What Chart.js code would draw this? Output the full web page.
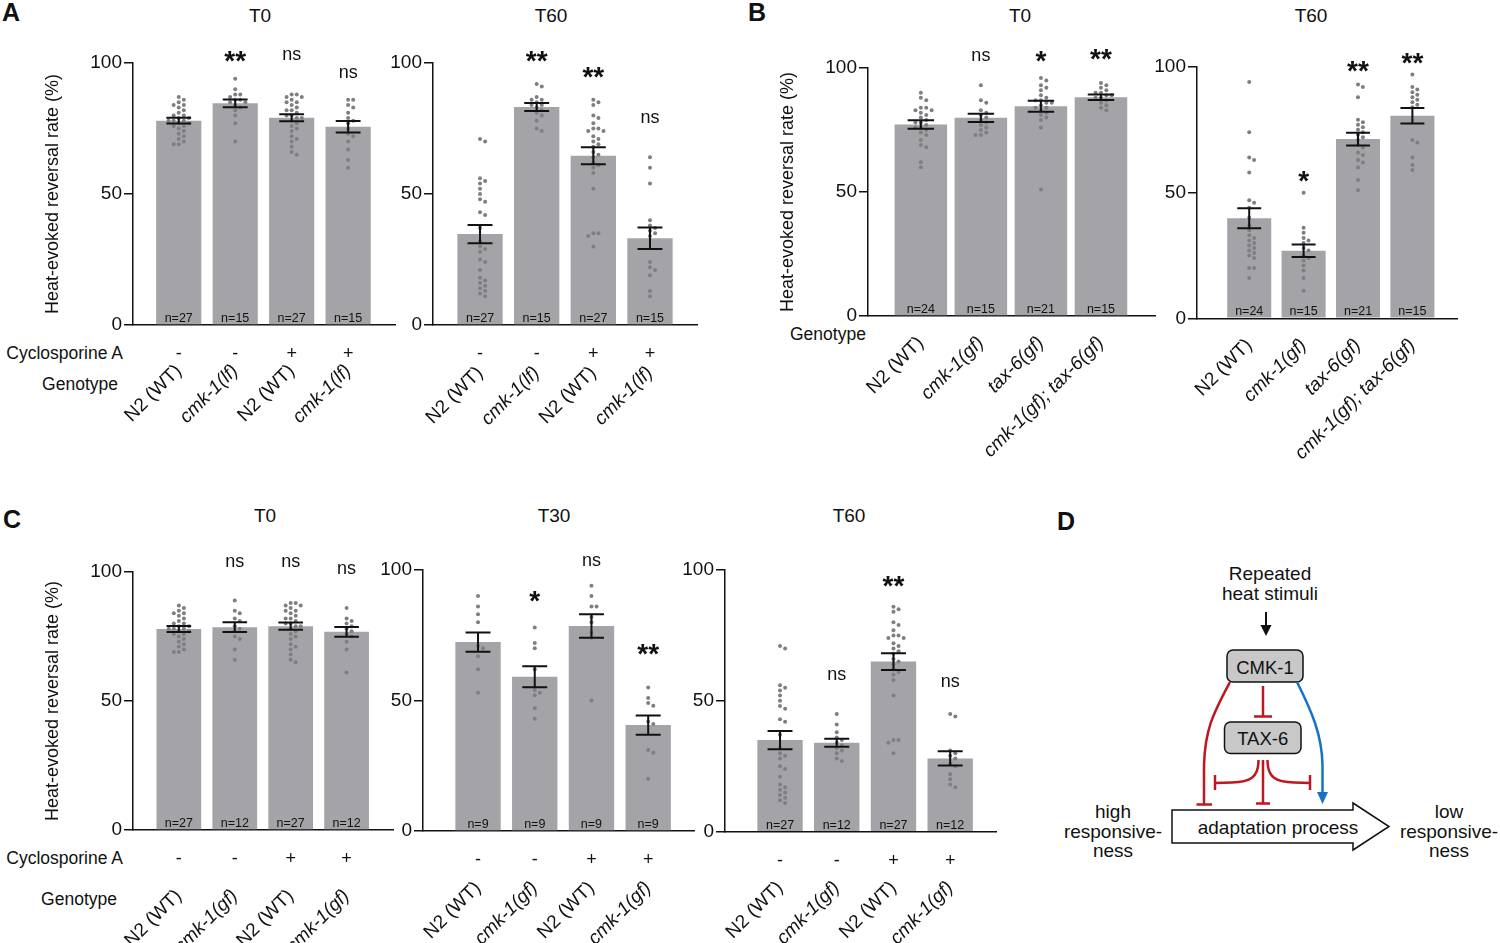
<!DOCTYPE html>
<html lang="en">
<head>
<meta charset="UTF-8">
<title>CMK-1 / TAX-6 heat-evoked reversal</title>
<script src="https://cdn.jsdelivr.net/npm/chart.js"></script>
<style>
    body { margin: 0; background: #fff; font-family: "Liberation Sans", Arial, sans-serif; color: #111; }
    #fig { position: relative; width: 1500px; height: 943px; overflow: hidden; }
    canvas { position: absolute; }
    .t { position: absolute; white-space: nowrap; line-height: 1; }
    .letter { font-weight: bold; font-size: 25px; transform: translate(-50%, -50%); }
    .title { font-size: 19px; transform: translate(-50%, -50%); }
    .row { font-size: 17.5px; transform: translate(-100%, -50%); }
    .rowl { font-size: 17.5px; transform: translate(0, -50%); }
    svg { position: absolute; left: 0; top: 0; }
</style>
</head>
<body>
<div id="fig">
    <div class="t letter" style="left:11px;top:12px">A</div>
    <div class="t letter" style="left:757px;top:12px">B</div>
    <div class="t letter" style="left:12px;top:519px">C</div>
    <div class="t letter" style="left:1066px;top:521px">D</div>

    <div class="t title" style="left:260px;top:15px">T0</div>
    <div class="t title" style="left:551px;top:15px">T60</div>
    <div class="t title" style="left:1020px;top:15px">T0</div>
    <div class="t title" style="left:1311px;top:15px">T60</div>
    <div class="t title" style="left:265px;top:515px">T0</div>
    <div class="t title" style="left:554px;top:515px">T30</div>
    <div class="t title" style="left:849px;top:515px">T60</div>

    <div class="t row" style="left:123px;top:354px">Cyclosporine A</div>
    <div class="t row" style="left:118px;top:385px">Genotype</div>
    <div class="t rowl" style="left:790px;top:335px">Genotype</div>
    <div class="t row" style="left:123px;top:859px">Cyclosporine A</div>
    <div class="t row" style="left:117px;top:900px">Genotype</div>

    <svg width="1500" height="943" viewBox="0 0 1500 943" font-family="Liberation Sans, Arial, sans-serif">
        <g font-size="19" text-anchor="middle" fill="#111">
            <text x="1270" y="573" dominant-baseline="central">Repeated</text>
            <text x="1270" y="593" dominant-baseline="central">heat stimuli</text>
        </g>
        <line x1="1266" y1="612" x2="1266" y2="627" stroke="#111" stroke-width="2"/>
        <polygon points="1260.5,625 1271.5,625 1266,636" fill="#111"/>

        <rect x="1227" y="650" width="76" height="32" rx="6" fill="#c8c8c8" stroke="#111" stroke-width="1.5"/>
        <text x="1265" y="667" font-size="18.5" text-anchor="middle" dominant-baseline="central" fill="#111">CMK-1</text>
        <rect x="1224.5" y="722" width="76.5" height="31.5" rx="6" fill="#c8c8c8" stroke="#111" stroke-width="1.5"/>
        <text x="1262.7" y="738.5" font-size="18.5" text-anchor="middle" dominant-baseline="central" fill="#111">TAX-6</text>

        <g stroke="#c0161d" stroke-width="2.5" fill="none">
            <path d="M1263,686 V716.5"/>
            <path d="M1254,716.5 H1272"/>
            <path d="M1230,682 C1214,712 1204,730 1204,770 L1204,804"/>
            <path d="M1196.5,804.5 H1212"/>
            <path d="M1258.5,760 C1258.5,778 1250,782 1232,782.5 L1215,783"/>
            <path d="M1215,775 V790"/>
            <path d="M1267.5,760 C1267.5,778 1276,782 1294,782.5 L1310,783"/>
            <path d="M1310,775 V790"/>
            <path d="M1263,760 V803.5"/>
            <path d="M1256,803.5 H1270"/>
        </g>
        <path d="M1297,682 C1312,712 1322,735 1322.5,765 L1322.5,794" stroke="#1872c4" stroke-width="2.5" fill="none"/>
        <polygon points="1317,792 1328,792 1322.5,804" fill="#1872c4"/>

        <polygon points="1172,810 1353,810 1353,803 1389,826.5 1353,850 1353,843 1172,843" fill="#fff" stroke="#111" stroke-width="1.5"/>
        <text x="1278" y="827" font-size="19" text-anchor="middle" dominant-baseline="central" fill="#111">adaptation process</text>
        <g font-size="19" text-anchor="middle" fill="#111">
            <text x="1113" y="811" dominant-baseline="central">high</text>
            <text x="1113" y="831" dominant-baseline="central">responsive-</text>
            <text x="1113" y="850" dominant-baseline="central">ness</text>
            <text x="1449" y="811" dominant-baseline="central">low</text>
            <text x="1449" y="831" dominant-baseline="central">responsive-</text>
            <text x="1449" y="850" dominant-baseline="central">ness</text>
        </g>
    </svg>
</div>

<script>
    const FONT = '"Liberation Sans", Arial, sans-serif';
    const INK = '#111';
    const BAR = '#a4a4a8';
    const DOT = '#7e7e83';

    // ---- category labels ----
    const genoLF = ['N2 (WT)', 'cmk-1(lf)', 'N2 (WT)', 'cmk-1(lf)'];
    const genoGF = ['N2 (WT)', 'cmk-1(gf)', 'N2 (WT)', 'cmk-1(gf)'];
    const genoB = ['N2 (WT)', 'cmk-1(gf)', 'tax-6(gf)', 'cmk-1(gf); tax-6(gf)'];
    const cyclo = ['-', '-', '+', '+'];

    // ---- individual animals, shared N2 control groups ----
    const wtT0 = [87, 86, 85, 84, 84, 83, 82, 81, 80, 80, 79, 79, 78, 78, 78, 77, 77, 76, 76, 75, 74, 73, 72, 71, 70, 69, 69];
    const wtT0csa = [88, 88, 87, 87, 86, 85, 85, 84, 83, 82, 82, 81, 80, 80, 79, 79, 78, 77, 76, 75, 74, 72, 71, 70, 68, 66, 65];
    const wtT60 = [71, 70, 56, 55, 54, 52, 50, 48, 47, 43, 42, 37, 32, 30, 29, 28, 25, 24, 21, 18, 17, 16, 15, 14, 13, 12, 11];
    const wtT60csa = [86, 85, 84, 80, 79, 77, 75, 75, 74, 74, 72, 71, 70, 69, 68, 66, 65, 64, 62, 61, 60, 58, 52, 35, 35, 34, 30];

    // ---- A, T0 ----
    const a0Mean = [78.0, 84.6, 79.1, 75.7];
    const a0Sem = [1.1, 1.5, 1.3, 2.2];
    const a0N = [27, 15, 27, 15];
    const a0Sig = ['', '**', 'ns', 'ns'];
    const a0Dots = [wtT0,
        [94, 90, 88, 88, 87, 86, 86, 85, 85, 84, 83, 82, 80, 77, 70],
        wtT0csa,
        [86, 86, 84, 83, 81, 79, 78, 77, 75, 73, 72, 70, 67, 63, 60]];

    // ---- A, T60 ----
    const a60Mean = [34.7, 83.2, 64.6, 33.1];
    const a60Sem = [3.5, 1.5, 3.2, 4.1];
    const a60N = [27, 15, 27, 15];
    const a60Sig = ['', '**', '**', 'ns'];
    const a60Dots = [wtT60,
        [92, 91, 87, 86, 86, 85, 84, 84, 83, 82, 81, 80, 78, 75, 74],
        wtT60csa,
        [64, 60, 54, 40, 38, 37, 36, 35, 34, 24, 22, 21, 19, 13, 11]];

    // ---- B, T0 ----
    const b0Mean = [77.2, 79.9, 84.6, 88.2];
    const b0Sem = [1.7, 1.7, 2.2, 1.1];
    const b0N = [24, 15, 21, 15];
    const b0Sig = ['', 'ns', '*', '**'];
    const b0Dots = [
        [90, 88, 87, 84, 84, 83, 83, 82, 81, 80, 79, 78, 78, 77, 76, 76, 75, 74, 73, 71, 69, 68, 62, 60],
        [93, 87, 86, 83, 82, 81, 80, 79, 78, 77, 76, 75, 74, 73, 73],
        [96, 95, 93, 92, 91, 89, 88, 87, 87, 86, 86, 85, 84, 84, 83, 82, 81, 80, 79, 76, 51],
        [94, 93, 92, 91, 90, 90, 89, 89, 88, 88, 87, 86, 85, 84, 83]];

    // ---- B, T60 ----
    const b60Mean = [39.8, 26.9, 71.3, 80.6];
    const b60Sem = [4.0, 2.5, 2.5, 3.1];
    const b60N = [24, 15, 21, 15];
    const b60Sig = ['', '*', '**', '**'];
    const b60Dots = [
        [94, 74, 64, 63, 58, 47, 46, 44, 40, 37, 35, 33, 32, 31, 30, 29, 28, 27, 26, 25, 24, 20, 20, 16],
        [50, 36, 34, 32, 31, 30, 28, 27, 25, 24, 23, 21, 19, 16, 11],
        [93, 92, 88, 79, 78, 77, 76, 75, 74, 73, 72, 71, 69, 68, 66, 65, 63, 62, 60, 55, 51],
        [97, 92, 91, 90, 89, 88, 87, 86, 85, 84, 71, 70, 64, 61, 59]];

    // ---- C, T0 ----
    const c0Mean = [77.9, 78.6, 79.0, 76.8];
    const c0Sem = [1.2, 1.9, 1.4, 1.9];
    const c0N = [27, 12, 27, 12];
    const c0Sig = ['', 'ns', 'ns', 'ns'];
    const c0Dots = [wtT0,
        [89, 85, 84, 82, 81, 79, 78, 77, 75, 74, 70, 66],
        wtT0csa,
        [86, 82, 81, 80, 79, 78, 77, 76, 75, 73, 70, 61]];

    // ---- C, T30 ----
    const c30Mean = [72.4, 59.1, 78.5, 40.6];
    const c30Sem = [3.7, 4.0, 4.5, 3.7];
    const c30N = [9, 9, 9, 9];
    const c30Sig = ['', '*', 'ns', '**'];
    const c30Dots = [
        [90, 86, 83, 80, 71, 70, 67, 62, 53],
        [78, 72, 70, 62, 54, 53, 52, 47, 43],
        [94, 90, 86, 86, 82, 80, 76, 74, 50],
        [55, 51, 49, 48, 42, 41, 31, 30, 20]];

    // ---- C, T60 ----
    const c60Mean = [35.0, 34.0, 65.0, 28.0];
    const c60Sem = [3.5, 1.5, 3.2, 2.7];
    const c60N = [27, 12, 27, 12];
    const c60Sig = ['', 'ns', '**', 'ns'];
    const c60Dots = [wtT60,
        [45, 41, 38, 36, 35, 34, 33, 32, 31, 30, 28, 27],
        wtT60csa,
        [45, 44, 31, 30, 29, 28, 26, 25, 22, 20, 18, 17]];

    // panel geometry (page pixels) and where the significance marks sit (axis units)
    const panels = [
        { labels: genoLF, signs: cyclo, mean: a0Mean, sem: a0Sem, n: a0N, sig: a0Sig, dots: a0Dots,
          sigAt: [0, 103, 103, 96], axisX: 133, axisEnd: 395, top100: 63, zero: 325,
          xMin: 0.19, xMax: 4.83, barPct: 0.8, yTitle: true, labelPad: 27, bottom: 485 },
        { labels: genoLF, signs: cyclo, mean: a60Mean, sem: a60Sem, n: a60N, sig: a60Sig, dots: a60Dots,
          sigAt: [0, 103, 97, 79], axisX: 433, axisEnd: 697, top100: 63, zero: 325,
          xMin: 0.17, xMax: 4.83, barPct: 0.8, yTitle: false, labelPad: 29, bottom: 485 },
        { labels: genoB, signs: null, mean: b0Mean, sem: b0Sem, n: b0N, sig: b0Sig, dots: b0Dots,
          sigAt: [0, 105, 105, 106], axisX: 868, axisEnd: 1155, top100: 67.7, zero: 316,
          xMin: 0.12, xMax: 4.9, barPct: 0.875, yTitle: true, labelPad: 8, bottom: 485 },
        { labels: genoB, signs: null, mean: b60Mean, sem: b60Sem, n: b60N, sig: b60Sig, dots: b60Dots,
          sigAt: [0, 57, 100.5, 104], axisX: 1197, axisEnd: 1457, top100: 67.3, zero: 318.3,
          xMin: 0.04, xMax: 4.82, barPct: 0.81, yTitle: false, labelPad: 8, bottom: 485 },
        { labels: genoGF, signs: cyclo, mean: c0Mean, sem: c0Sem, n: c0N, sig: c0Sig, dots: c0Dots,
          sigAt: [0, 104, 104, 101], axisX: 133, axisEnd: 393, top100: 571.7, zero: 830,
          xMin: 0.18, xMax: 4.83, barPct: 0.8, yTitle: true, labelPad: 47, bottom: 943 },
        { labels: genoGF, signs: cyclo, mean: c30Mean, sem: c30Sem, n: c30N, sig: c30Sig, dots: c30Dots,
          sigAt: [0, 90.5, 103.5, 70], axisX: 423.3, axisEnd: 695, top100: 570, zero: 831,
          xMin: 0.03, xMax: 4.82, barPct: 0.8, yTitle: false, labelPad: 38, bottom: 943 },
        { labels: genoGF, signs: cyclo, mean: c60Mean, sem: c60Sem, n: c60N, sig: c60Sig, dots: c60Dots,
          sigAt: [0, 60, 96, 57], axisX: 725, axisEnd: 996.7, top100: 570, zero: 831.7,
          xMin: 0.03, xMax: 4.82, barPct: 0.8, yTitle: false, labelPad: 37, bottom: 943 }
    ];

    // simple beeswarm: spread equal-ish values sideways
    function swarm(vals, step = 0.09, gap = 1.6) {
        const placed = [];
        return vals.slice().sort((a, b) => b - a).map(v => {
            for (let k = 0; ; k++) {
                const o = (k % 2 ? 1 : -1) * Math.ceil(k / 2) * step + 0;
                const ok = placed.every(p => Math.abs(p.v - v) >= gap || Math.abs(p.o - o) >= step * 0.99);
                if (ok) { placed.push({ v, o }); return { v, o }; }
            }
        });
    }

    // error bars, n labels, significance marks and drug row
    const decor = {
        id: 'decor',
        afterDatasetsDraw(chart, args, o) {
            const { ctx } = chart;
            const x = chart.scales.x, y = chart.scales.y;
            const cap = x.getPixelForValue(1.22) - x.getPixelForValue(1);
            ctx.save();
            ctx.strokeStyle = INK;
            ctx.lineWidth = 2;
            o.mean.forEach((m, i) => {
                const cx = x.getPixelForValue(i + 1);
                const hi = y.getPixelForValue(m + o.sem[i]);
                const lo = y.getPixelForValue(m - o.sem[i]);
                ctx.beginPath();
                ctx.moveTo(cx, hi); ctx.lineTo(cx, lo);
                ctx.moveTo(cx - cap, hi); ctx.lineTo(cx + cap, hi);
                ctx.moveTo(cx - cap, lo); ctx.lineTo(cx + cap, lo);
                ctx.stroke();
            });
            ctx.restore();
        },
        afterDraw(chart, args, o) {
            const { ctx } = chart;
            const x = chart.scales.x, y = chart.scales.y;
            const base = y.getPixelForValue(0);
            ctx.save();
            ctx.fillStyle = INK;
            ctx.textAlign = 'center';
            o.n.forEach((n, i) => {
                ctx.font = `12.5px ${FONT}`;
                ctx.textBaseline = 'alphabetic';
                ctx.fillText('n=' + n, x.getPixelForValue(i + 1), base - 3);
            });
            o.sig.forEach((s, i) => {
                if (!s) return;
                const cx = x.getPixelForValue(i + 1);
                const cy = y.getPixelForValue(o.sigAt[i]);
                ctx.textBaseline = 'middle';
                if (s === 'ns') {
                    ctx.font = `18px ${FONT}`;
                    ctx.fillText(s, cx, cy);
                } else {
                    ctx.font = `bold 28px ${FONT}`;
                    ctx.fillText(s, cx, cy + 7);
                }
            });
            if (o.signs) {
                ctx.font = `18px ${FONT}`;
                ctx.textBaseline = 'middle';
                o.signs.forEach((s, i) => ctx.fillText(s, x.getPixelForValue(i + 1), base + 29));
            }
            ctx.restore();
        }
    };

    const fig = document.getElementById('fig');
    const PAD_R = 45; // room so the rotated labels never squeeze the plot area

    function buildPanel(p) {
        const yW = p.yTitle ? 95 : 60;
        const left = p.axisX - yW;
        const top = p.top100 - 62;
        const width = Math.round(p.axisEnd - left + PAD_R);
        const height = Math.round(p.bottom - top);
        const cv = document.createElement('canvas');
        cv.width = width; cv.height = height;
        cv.style.left = left + 'px'; cv.style.top = top + 'px';
        cv.style.width = width + 'px'; cv.style.height = height + 'px';
        fig.appendChild(cv);

        const dotPts = [];
        p.dots.forEach((vals, i) => swarm(vals).forEach(d => dotPts.push({ x: i + 1 + d.o, y: d.v })));

        new Chart(cv, {
            type: 'bar',
            data: {
                datasets: [
                    { type: 'scatter', data: dotPts, pointRadius: 2, pointBackgroundColor: DOT,
                      pointBorderWidth: 0, order: 0 },
                    { type: 'bar', data: p.mean.map((m, i) => ({ x: i + 1, y: m })), backgroundColor: BAR,
                      barPercentage: p.barPct, categoryPercentage: 1, order: 1 }
                ]
            },
            options: {
                responsive: false,
                animation: false,
                layout: { padding: { top: 62, right: width - (p.axisEnd - left), left: 0, bottom: 0 } },
                plugins: {
                    legend: { display: false },
                    tooltip: { enabled: false },
                    decor: p
                },
                scales: {
                    x: {
                        type: 'linear',
                        min: p.xMin, max: p.xMax,
                        offset: false,
                        grid: { display: false },
                        border: { display: true, color: INK, width: 1.5 },
                        ticks: {
                            stepSize: 1, includeBounds: false, autoSkip: false,
                            minRotation: 45, maxRotation: 45,
                            padding: p.labelPad, color: INK,
                            font: ctx => ({ family: FONT, size: 19,
                                style: (p.labels[ctx.index] || '').startsWith('N2') ? 'normal' : 'italic' }),
                            callback: v => p.labels[v - 1] || ''
                        },
                        afterFit: s => { s.height = p.bottom - p.zero; }
                    },
                    y: {
                        min: 0, max: 100,
                        grid: { drawOnChartArea: false, drawTicks: true, tickLength: 9, color: INK, lineWidth: 1.5 },
                        border: { display: true, color: INK, width: 1.5 },
                        ticks: { stepSize: 50, padding: 2, color: INK, font: { family: FONT, size: 19 } },
                        title: { display: p.yTitle, text: 'Heat-evoked reversal rate (%)', color: INK,
                                 font: { family: FONT, size: 18 } },
                        afterFit: s => { s.width = yW; }
                    }
                }
            },
            plugins: [decor]
        });
    }

    panels.forEach(buildPanel);
</script>
</body>
</html>
